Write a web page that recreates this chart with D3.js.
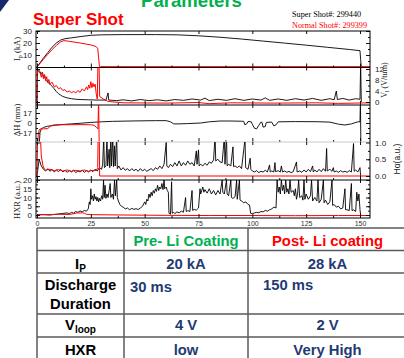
<!DOCTYPE html>
<html>
<head>
<meta charset="utf-8">
<script src="https://cdn.jsdelivr.net/npm/d3@7"></script>
<style>
  html, body { margin: 0; padding: 0; background: #fff; overflow: hidden; }
  svg { display: block; }
</style>
</head>
<body>
<svg id="slide" width="404" height="358"></svg>
<script>
// time axis (ms)
const timeTicks = [0, 25, 50, 75, 100, 125, 150]

// tick labels per panel
const ipTicks = [0, 10, 20, 30]
const vloopTicks = [0, 4, 8, 12]
const dhTicks = [-17, 0, 17]
const halphaTicks = [0, 0.5, 1]
const hxrTicks = [0, 5, 10, 15, 20]

// [t (ms), value]. black = super shot, red = normal shot
const ipSuper = [[0, 0], [1, 2.5], [3, 7.5], [5, 12], [7, 16.5], [9, 20], [11, 22.5], [13, 23.6], [16, 24.3], [20, 25.3], [25, 26.4], [30, 26.8], [40, 27], [55, 27], [65, 26.8], [75, 26], [85, 24.8], [95, 23.3], [105, 21.6], [115, 19.9], [125, 18.2], [135, 16.4], [145, 14.6], [150, 13.6], [150.3, 6], [150.6, 0]]
const ipNormal = [[0, 0], [1, 2], [3, 6.5], [5, 10.5], [7, 14.5], [9, 18], [11, 21], [12.5, 22], [15, 21.4], [20, 20], [25, 18.4], [27.5, 17], [28.2, 15.5], [28.6, 8], [29, 0.5], [29.5, 0.3], [155, 0.3]]

const vloopSuper = [[0, 0], [0.3, 12], [1, 11.5], [2, 10.2], [2.5, 10.8], [3, 9], [3.5, 9.6], [4, 8], [5, 7.2], [6, 6.5], [7, 5.7], [8, 4.8], [9, 3.8], [10, 3], [11, 2.5], [12, 2], [14, 1.5], [16, 1.2], [18, 1], [20, 0.9], [24, 0.8], [28, 0.7], [32, 0.7], [33, 3.3], [33.3, 0.7], [37, 0.5], [40, 0.8], [44, 0.4], [48, 0.9], [52, 0.5], [56, 0.8], [60, 0.4], [64, 0.9], [68, 0.6], [72, 1.1], [76, 0.7], [78, 1.4], [80, 0.5], [84, 1], [88, 0.6], [92, 1.2], [96, 0.6], [100, 1.1], [104, 0.7], [106, 1.5], [108, 0.6], [112, 1.1], [116, 0.6], [120, 1.2], [124, 0.7], [128, 1.3], [132, 0.6], [136, 1.2], [138, 0.8], [139, 4], [139.5, 0.9], [142, 1.3], [145, 0.7], [148, 1.2], [150, 1], [150.3, 14], [150.6, 0]]
const vloopNormal = [[0, -0.5], [0.2, 12], [0.8, 11], [1.5, 10.5], [2, 9], [2.5, 10.8], [3, 8.5], [3.5, 10], [4, 7.8], [4.5, 9.2], [5, 7], [5.5, 8.2], [6, 6.5], [7, 7.2], [8, 5.5], [9, 6], [10, 4.8], [11, 5.2], [12, 4.2], [13, 4.5], [14, 3.6], [15, 4], [16, 3.4], [17, 3.8], [18, 3.3], [19, 4.2], [20, 3.5], [21, 4.8], [22, 4], [23, 5.5], [23.5, 4.5], [24, 6.2], [24.5, 5], [25, 7.4], [25.5, 5.2], [26, 6.8], [26.5, 5.5], [27, 6.5], [27.5, 3], [28, 1], [28.3, 14], [28.8, 14], [29.1, 2], [31, 1], [33, 0.2], [40, -0.3], [60, -0.4], [75, -0.2], [80, -0.6], [90, -0.3], [110, -0.4], [130, -0.3], [140, -0.5], [155, -0.3]]

const dhSuper = [[1, -40], [1.4, -16], [2, -10], [3, -7.5], [5, -5.5], [8, -4], [12, -2.5], [16, -1.5], [20, -0.5], [25, 1], [30, 2], [35, 2.8], [45, 3.5], [55, 4], [60, 4], [62, 2], [63.5, -1.5], [66, -1.5], [70, -1], [76, 0], [80, 2], [85, 3.4], [90, 3.4], [95, 3], [96, 2.8], [96.5, -3], [97.5, -1], [98, 2.5], [99.5, 2], [100, -2], [101, -9], [102, -10], [103, -4], [104, 1.5], [104.5, 1], [105, -7], [106, -6], [106.5, 1], [109, 1.5], [110, -5], [111, -3], [112, 2], [120, 2.4], [130, 2.2], [136, 1.5], [140, -2], [143, -3.4], [146, -1.5], [149, 2], [150, 2], [150.2, 40], [150.4, -40]]
const dhNormal = [[0.3, -40], [0.6, -19], [1, -12], [1.5, -10], [3, -10], [5, -9.5], [6, -6], [7, -4], [8, -3.2], [12, -3], [20, -2.8], [25, -3], [26.5, -4], [27.5, -7], [28.3, -10], [28.6, 40], [28.9, -40]]

const halphaSuper = [[0, 0], [1, 0.5], [2, 0.3], [3, 0.2], [4, 0.15], [5, 0.22], [6, 0.14], [7, 0.2], [8, 0.12], [9, 0.18], [10, 0.13], [11, 0.2], [12, 0.12], [13, 0.17], [14, 0.11], [15, 0.16], [16, 0.12], [17, 0.18], [18, 0.1], [19, 0.15], [20, 0.12], [21, 0.17], [22, 0.11], [23, 0.16], [24, 0.12], [25, 0.18], [26, 0.13], [27, 0.2], [28, 0.15], [29, 0.25], [30, 0.2], [30.5, 0.35], [31, 1.2], [31.3, 0.25], [32, 0.3], [32.5, 1.2], [32.8, 0.3], [33.5, 0.8], [33.8, 0.25], [34.3, 1.2], [34.6, 0.3], [35.2, 1.2], [35.5, 0.28], [36, 0.9], [36.3, 0.3], [37, 1.2], [37.3, 0.22], [38, 0.3], [39, 0.18], [40, 0.25], [41, 0.17], [42, 0.22], [43, 0.15], [44, 0.22], [45, 0.16], [46, 0.2], [47, 0.14], [48, 0.22], [49, 0.15], [50, 0.2], [51, 0.14], [52, 0.18], [53, 0.22], [54, 0.16], [55, 0.25], [56, 0.2], [57, 0.3], [58, 0.22], [59, 0.35], [60, 1], [60.3, 0.3], [61, 0.25], [62, 0.35], [63, 0.28], [64, 0.4], [65, 0.3], [66, 0.45], [67, 0.3], [68, 0.4], [69, 0.32], [70, 0.45], [71, 0.35], [72, 0.4], [73, 0.3], [74, 0.75], [74.3, 0.35], [75, 0.78], [75.3, 0.3], [76, 0.35], [77, 0.3], [78, 0.38], [79, 0.32], [80, 0.42], [81, 0.38], [82, 0.48], [82.7, 1.2], [83, 0.45], [84, 0.5], [85, 0.42], [86, 0.4], [87, 1.2], [87.3, 0.35], [88, 1.2], [88.3, 0.3], [89, 0.35], [90, 0.3], [91, 0.87], [91.3, 0.28], [92, 0.3], [93, 0.25], [94, 0.3], [95, 0.22], [96.6, 1.1], [96.9, 0.25], [98, 0.2], [99, 0.53], [99.3, 0.2], [100, 0.15], [101, 0.12], [102, 0.16], [103, 0.1], [104, 0.14], [105, 0.12], [106, 0.17], [107, 0.12], [108, 0.33], [108.3, 0.12], [109, 0.15], [110, 0.12], [110.5, 0.4], [110.8, 0.13], [112, 0.16], [113, 0.12], [113.5, 0.3], [114, 0.12], [115, 0.15], [116, 0.11], [117, 0.14], [118, 0.1], [119, 0.13], [120.5, 0.42], [120.8, 0.12], [122, 0.15], [123, 0.11], [124, 0.18], [125, 0.12], [126, 0.2], [127, 0.13], [128, 0.3], [128.3, 0.12], [129, 0.18], [130, 0.12], [131, 0.2], [132, 0.13], [133, 0.22], [134, 0.14], [134.5, 0.82], [134.8, 0.15], [136, 0.2], [137, 0.14], [137.6, 0.25], [138, 0.12], [139, 0.15], [140, 0.11], [141, 0.16], [142, 0.12], [143, 0.14], [144, 0.11], [145, 0.16], [146, 0.12], [147, 0.97], [147.3, 0.14], [148, 0.18], [149, 0.12], [150, 0.25], [150.3, 0]]
const halphaNormal = [[0, 0], [0.3, 1.3], [1.5, 1.3], [2, 0.6], [2.8, 0.3], [3.5, 0.2], [4, 0.18], [6, 0.2], [8, 0.16], [10, 0.19], [12, 0.15], [14, 0.18], [16, 0.14], [18, 0.17], [20, 0.15], [22, 0.18], [24, 0.14], [26, 0.17], [27.5, 0.16], [28.2, 0.25], [28.4, 1.3], [28.9, 1.3], [29.1, 0], [155, 0]]

const hxrSuper = [[0, 0], [3, 0.2], [6, 0], [8, 0.3], [10, 0.6], [12, 0.9], [14, 1.2], [15, 0.8], [16, 1.5], [17, 1.1], [18, 2], [19, 1.5], [20, 2.3], [21, 1.8], [22, 2.6], [23, 2.2], [23.8, 3.5], [24.3, 7.5], [24.7, 6], [25, 15], [25.3, 9], [25.8, 11], [26.2, 8], [26.6, 12], [27, 9], [27.4, 10.5], [27.8, 8], [28.2, 10], [28.6, 7.5], [29, 9.5], [29.5, 8], [30, 11], [30.5, 9], [30.9, 20], [31.2, 10], [31.6, 17], [32, 9.5], [32.5, 12], [33, 10], [33.5, 14], [34, 18], [34.3, 10], [35, 12], [35.5, 9], [36, 20], [36.4, 11], [37, 20], [37.3, 10], [37.8, 8], [38.5, 6], [39.2, 5], [40, 4.5], [41, 3.5], [42, 4], [43, 3], [44, 3.8], [45, 3.2], [46, 3.6], [47, 3.1], [48, 4], [49, 5], [50, 7.5], [50.5, 6], [51, 9], [51.5, 8], [52, 12], [52.5, 10], [53, 13], [53.5, 11], [54, 14], [54.5, 12.5], [55, 15], [55.5, 13.5], [56, 17], [56.5, 14], [57, 16], [57.5, 15], [58, 18], [58.5, 14.5], [59, 20], [59.3, 15], [60, 16], [60.5, 14], [61, 13], [61.3, 1], [62, 0.5], [62.5, 19], [62.8, 1], [63.5, 1.5], [64, 0.8], [65, 1.8], [66, 1.2], [67, 2.2], [68, 1.6], [69, 10], [69.3, 2], [70, 2.5], [71, 2], [72, 14], [72.3, 2.6], [73, 3.2], [74, 2.8], [75, 4], [75.7, 15], [76, 12], [77, 16], [77.5, 13], [78, 14.5], [79, 12.5], [80, 15], [81, 12], [82, 14], [83, 11.5], [84, 14], [85, 12], [86, 20], [86.3, 13], [87, 12], [88, 20], [88.3, 12], [89, 11], [90, 20], [90.3, 10], [91, 9.5], [92, 10.5], [92.7, 20], [93, 9], [94, 20], [94.3, 8.5], [95, 8], [96, 7], [97, 7.5], [98, 6], [98.7, 5.7], [99.2, 1], [100, 0.8], [101, 1.2], [102, 1.5], [103, 1.3], [104, 2], [105, 1.8], [106, 2.6], [107, 2.2], [108, 3], [109, 3.5], [110, 4.5], [111, 4], [111.5, 20], [112, 13], [112.5, 16], [113, 12], [113.5, 20], [114, 14], [114.5, 17], [115, 12], [115.5, 20], [116, 13], [116.5, 15], [117, 12], [117.5, 20], [118, 13], [119, 14], [119.5, 11], [120, 15], [120.5, 9], [121, 12], [121.5, 20], [122, 10], [123, 11], [123.5, 8.5], [124, 20], [124.4, 9], [125, 12], [126, 9], [127, 11], [127.5, 20], [128, 8], [129, 10], [130, 8], [130.5, 20], [131, 7], [132, 9], [133, 20], [133.3, 7], [134, 8.5], [135, 6], [136, 7.5], [137, 20], [137.3, 5.5], [138, 6], [139, 4.5], [140, 5], [141, 3.5], [142, 4], [143, 15], [143.3, 3], [144, 3], [145, 2.5], [146, 18], [146.3, 2.5], [147, 3], [148, 2], [148.5, 13], [149, 8], [149.5, 12], [150, 3], [150.3, 0]]
const hxrNormal = [[0, 0.3], [5, 0.2], [10, 0.4], [15, 0.3], [17, 0.7], [18.5, 1.2], [20, 1.1], [21, 1.3], [22, 1], [23, 0.4], [25, 0.2], [40, 0], [60, -0.2], [80, -0.3], [100, -0.3], [120, -0.4], [140, -0.3], [155, -0.3]]

const shotLabels = ['Super Shot#: 299440', 'Normal Shot#: 299399']

// comparison table
const tableHeads = ['Pre- Li Coating', 'Post- Li coating']
const paramNames = ['I_P', 'Discharge|Duration', 'V_loop', 'HXR']
const preLi = ['20 kA', '30 ms', '4 V', 'low']
const postLi = ['28 kA', '150 ms', '2 V', 'Very High']

const sans = "'Liberation Sans', Arial, sans-serif"
const serif = "'Liberation Serif', 'Times New Roman', serif"
const red = '#ff0000'
const green = '#00b050'
const navy = '#1f3b73'

const svg = d3.select('#slide')
const left = 36
const right = 370
const x = d3.scaleLinear([0, 150], [37, 360])

// slide decoration and headings
svg.append('path').attr('d', 'M0,0 L9,0 L0,12 Z').attr('fill', '#17296b')
svg.append('text').attr('x', 191.5).attr('y', 7).attr('text-anchor', 'middle')
  .attr('font-family', sans).attr('font-weight', 'bold').attr('font-size', 18.5)
  .attr('fill', green).text('Parameters')
svg.append('text').attr('x', 33).attr('y', 25)
  .attr('font-family', sans).attr('font-weight', 'bold').attr('font-size', 17)
  .attr('fill', red).text('Super Shot')
svg.selectAll('text.shot').data(shotLabels).join('text')
  .attr('class', 'shot')
  .attr('x', 292).attr('y', (d, i) => 17 + i * 11.3)
  .attr('font-family', serif).attr('font-size', 8.2)
  .attr('fill', (d, i) => i === 0 ? '#000' : red)
  .text(d => d)

const panels = [
  { top: 31, bottom: 67.5, y: d3.scaleLinear([0, 30], [67, 31]), black: ipSuper, red: ipNormal, ticks: ipTicks, leftLabels: true, rightLabels: false, line: '#000' },
  { top: 67.5, bottom: 105, y: d3.scaleLinear([0, 12], [102, 69]), black: vloopSuper, red: vloopNormal, ticks: vloopTicks, leftLabels: false, rightLabels: true, line: '#000' },
  { top: 105, bottom: 142, y: d3.scaleLinear([-17, 17], [133, 113]), black: dhSuper, red: dhNormal, ticks: dhTicks, leftLabels: true, rightLabels: false, line: '#c8c8c8' },
  { top: 142, bottom: 180, y: d3.scaleLinear([0, 1], [176, 142.5]), black: halphaSuper, red: halphaNormal, ticks: halphaTicks, leftLabels: false, rightLabels: true, line: '#000', fmt: d3.format('.1f') },
  { top: 180, bottom: 218, y: d3.scaleLinear([0, 20], [215, 180]), black: hxrSuper, red: hxrNormal, ticks: hxrTicks, leftLabels: true, rightLabels: false, line: '#000' }
]

const styleAxis = g => {
  g.attr('font-family', sans).attr('font-size', 8)
  g.select('.domain').remove()
  g.selectAll('line').attr('stroke', '#111')
  g.selectAll('text').attr('fill', '#222')
}

panels.forEach((p, i) => {
  const clipId = `clip${i}`
  svg.append('clipPath').attr('id', clipId)
    .append('rect').attr('x', left).attr('y', p.top)
    .attr('width', right - left).attr('height', p.bottom - p.top)

  const line = d3.line().x(d => x(d[0])).y(d => p.y(d[1]))
  const traces = svg.append('g').attr('clip-path', `url(#${clipId})`)
  traces.append('path').datum(p.black).attr('d', line)
    .attr('fill', 'none').attr('stroke', '#000').attr('stroke-width', 0.9)
  traces.append('path').datum(p.red).attr('d', line)
    .attr('fill', 'none').attr('stroke', red).attr('stroke-width', 1)

  // y ticks, major and minor, both sides
  const step = p.ticks[1] - p.ticks[0]
  const minor = d3.range(p.ticks[0] - step, p.ticks[p.ticks.length - 1] + step, step / 2)
    .filter(v => p.y(v) > p.top + 1 && p.y(v) < p.bottom - 1)
  const fmt = p.fmt || d3.format('d')
  ;[['left', d3.axisLeft, left, p.leftLabels], ['right', d3.axisRight, right, p.rightLabels]].forEach(([side, make, pos, labelled]) => {
    svg.append('g').attr('transform', `translate(${pos},0)`)
      .call(make(p.y).tickValues(minor).tickSizeInner(-2).tickSizeOuter(0).tickFormat(''))
      .call(styleAxis)
    svg.append('g').attr('transform', `translate(${pos},0)`)
      .call(make(p.y).tickValues(p.ticks).tickSizeInner(-4).tickSizeOuter(0).tickPadding(side === 'left' ? 4 : 5)
        .tickFormat(labelled ? fmt : ''))
      .call(styleAxis)
  })

  // time ticks at the panel edges
  const minorT = timeTicks.slice(0, -1).map(t => t + 12.5)
  const isLast = i === panels.length - 1
  svg.append('g').attr('transform', `translate(0,${p.bottom})`)
    .call(d3.axisBottom(x).tickValues(timeTicks).tickSizeInner(-4).tickSizeOuter(0).tickPadding(3.5)
      .tickFormat(isLast ? d3.format('d') : ''))
    .call(styleAxis)
    .call(g => g.selectAll('text').attr('font-size', 7).attr('fill', '#333'))
  svg.append('g').attr('transform', `translate(0,${p.bottom})`)
    .call(d3.axisBottom(x).tickValues(minorT).tickSizeInner(-2).tickSizeOuter(0).tickFormat(''))
    .call(styleAxis)
  svg.append('g').attr('transform', `translate(0,${p.top})`)
    .call(d3.axisTop(x).tickValues(timeTicks).tickSizeInner(-3).tickSizeOuter(0).tickFormat(''))
    .call(styleAxis)

  // panel divider
  if (!isLast) {
    svg.append('line').attr('x1', left).attr('x2', right)
      .attr('y1', p.bottom).attr('y2', p.bottom)
      .attr('stroke', p.line).attr('stroke-width', 1)
  }
})

// outer frame
svg.append('rect').attr('x', left).attr('y', panels[0].top)
  .attr('width', right - left).attr('height', panels[4].bottom - panels[0].top)
  .attr('fill', 'none').attr('stroke', '#000').attr('stroke-width', 1)

// axis titles
const titleIp = svg.append('text').attr('transform', `translate(20,49) rotate(-90)`)
  .attr('text-anchor', 'middle').attr('font-family', serif).attr('font-size', 8.5).attr('fill', '#222')
titleIp.append('tspan').text('I')
titleIp.append('tspan').attr('dy', 2).attr('font-size', 6).text('p')
titleIp.append('tspan').attr('dy', -2).text(' (kA)')

svg.append('text').attr('transform', `translate(20,120) rotate(-90)`)
  .attr('text-anchor', 'middle').attr('font-family', serif).attr('font-size', 8.5).attr('fill', '#222')
  .text('ΔH (mm)')
svg.append('text').attr('transform', `translate(20,200) rotate(-90)`)
  .attr('text-anchor', 'middle').attr('font-family', serif).attr('font-size', 8.5).attr('fill', '#222')
  .text('HXR (a.u.)')

const titleV = svg.append('text').attr('transform', `translate(387,80) rotate(-90)`)
  .attr('text-anchor', 'middle').attr('font-family', serif).attr('font-size', 8).attr('fill', '#222')
titleV.append('tspan').text('V')
titleV.append('tspan').attr('dy', 2).attr('font-size', 5.5).text('l')
titleV.append('tspan').attr('dy', -2).text(' (V/turn)')

svg.append('text').attr('transform', `translate(400,159) rotate(-90)`)
  .attr('text-anchor', 'middle').attr('font-family', sans).attr('font-size', 8.5).attr('fill', '#222')
  .text('Hα(a.u.)')

// comparison table
const colX = [37, 124, 248, 406]
const rowY = [228, 250.5, 273, 314, 337, 362]
const table = svg.append('g')
table.append('rect').attr('x', colX[0]).attr('y', rowY[0])
  .attr('width', colX[3] - colX[0]).attr('height', rowY[5] - rowY[0]).attr('fill', '#fff')
table.selectAll('line.h').data(rowY).join('line').attr('class', 'h')
  .attr('x1', colX[0]).attr('x2', colX[3]).attr('y1', d => d).attr('y2', d => d)
  .attr('stroke', '#5a5a5a').attr('stroke-width', 1.5)
table.selectAll('line.v').data(colX).join('line').attr('class', 'v')
  .attr('x1', d => d).attr('x2', d => d).attr('y1', rowY[0]).attr('y2', rowY[5])
  .attr('stroke', '#5a5a5a').attr('stroke-width', 1.5)

const cellFont = g => g.attr('font-family', sans).attr('font-weight', 'bold').attr('font-size', 14.8)
const colCenter = [(colX[1] + colX[2]) / 2, 327.5]

table.selectAll('text.head').data(tableHeads).join('text').attr('class', 'head')
  .attr('x', (d, i) => colCenter[i]).attr('y', 245.5).attr('text-anchor', 'middle')
  .attr('fill', (d, i) => i === 0 ? green : red).call(cellFont).text(d => d)

const nameBase = [268.5, 290, 330, 355]
paramNames.forEach((name, i) => {
  const t = table.append('text').attr('x', (colX[0] + colX[1]) / 2).attr('y', nameBase[i])
    .attr('text-anchor', 'middle').attr('fill', '#000').call(cellFont)
  if (name.includes('|')) {
    name.split('|').forEach((part, j) => {
      t.append('tspan').attr('x', (colX[0] + colX[1]) / 2).attr('dy', j === 0 ? 0 : 18.5).text(part)
    })
  } else if (name.includes('_')) {
    const [main, sub] = name.split('_')
    t.append('tspan').text(main)
    t.append('tspan').attr('dy', 3).attr('font-size', 10).text(sub)
  } else {
    t.text(name)
  }
})

const valueBase = [268.5, 292, 330, 355]
;[preLi, postLi].forEach((vals, c) => {
  table.selectAll(`text.val${c}`).data(vals).join('text').attr('class', `val${c}`)
    .attr('x', (d, i) => i === 1 ? (c === 0 ? colX[1] + 6 : colX[2] + 15) : colCenter[c])
    .attr('y', (d, i) => i === 1 && c === 1 ? 290 : valueBase[i])
    .attr('text-anchor', (d, i) => i === 1 ? 'start' : 'middle')
    .attr('fill', navy).call(cellFont).text(d => d)
})
</script>
</body>
</html>
